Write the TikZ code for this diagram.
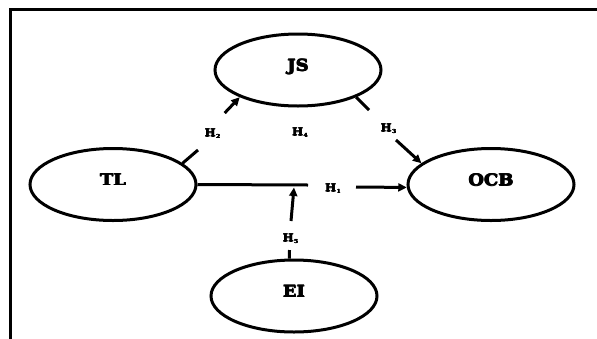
\documentclass[tikz,border=0pt]{standalone}
\usepackage{fontspec}
\setmainfont{DejaVu Serif}
\newfontfamily\heavyface[FakeStretch=1.12]{DejaVu Serif Bold}
\usetikzlibrary{arrows.meta,shapes.geometric}
% overprinted copies give a heavier stroke
\newcommand{\thick}[2]{\leavevmode
  \rlap{\kern#1#2}\rlap{\kern.5\dimexpr#1\relax\raisebox{.5\dimexpr#1\relax}{#2}}%
  \rlap{\kern.5\dimexpr#1\relax\raisebox{-.5\dimexpr#1\relax}{#2}}#2\kern#1}
\newcommand{\hyp}[1]{\thick{0.35pt}{H}{\fontsize{5.5}{6}\selectfont\raisebox{-1.8pt}{\thick{0.25pt}{#1}}}}
\newcommand{\cname}[1]{\thick{0.8pt}{#1}}
\begin{document}
\begin{tikzpicture}[x=1pt,y=-1pt,
  construct/.style={ellipse, draw, line width=3pt, minimum width=166pt,
    minimum height=72pt, inner sep=0pt, text depth=10pt,
    font=\heavyface\fontsize{16}{16}\selectfont},
  link/.style={line width=3pt},
  arr/.style={link, -{Triangle[length=8.5pt,width=8pt]}},
  hlabel/.style={font=\heavyface\fontsize{10.5}{11}\selectfont, inner sep=0pt}]
\useasboundingbox (0,0) rectangle (597,338);
% outer frame, open at the bottom
\begin{scope}
  \clip (0,0) rectangle (597,338);
  \draw[line width=3pt] (10.5,360) -- (10.5,9.5) -- (598.2,9.5) -- (598.2,360);
\end{scope}

% constructs
\node[construct] (JS)  at (298,70)    {\cname{JS}};
\node[construct] (TL)  at (113,184.5) {\cname{TL}};
\node[construct] (OCB) at (491,184.5) {\cname{OCB}};
\node[construct] (EI)  at (294,296)   {\cname{EI}};

% break points of the connectors
\coordinate (h2a) at (198,150);
\coordinate (h2b) at (224.7,113);
\coordinate (h3a) at (369,110);
\coordinate (h3b) at (396,140);
\coordinate (h1a) at (308,185);
\coordinate (h1b) at (356,187);
\coordinate (h5a) at (289.5,250);
\coordinate (h5b) at (291,221);
\coordinate (h5t) at (294,187.5);

% H2: TL -> JS
\draw[link] (TL.17) -- (h2a);
\draw[arr]  (h2b) -- (JS.205);
% H3: JS -> OCB
\draw[link] (JS.335) -- (h3a);
\draw[arr]  (h3b) -- (OCB.163);
% H1: TL -> OCB
\draw[link] (TL.east) -- (h1a);
\draw[arr]  (h1b) -- (OCB.182);
% H5: EI moderates TL -> OCB
\draw[link] (EI.97) -- (h5a);
\draw[arr]  (h5b) -- (h5t);

% hypothesis labels
\node[hlabel] (lH2) at (212.5,134) {\hyp{2}};
\node[hlabel] (lH4) at (300,133)   {\hyp{4}};
\node[hlabel] (lH3) at (388.5,129) {\hyp{3}};
\node[hlabel] (lH1) at (333,189)   {\hyp{1}};
\node[hlabel] (lH5) at (290.5,239) {\hyp{5}};
\end{tikzpicture}
\end{document}
